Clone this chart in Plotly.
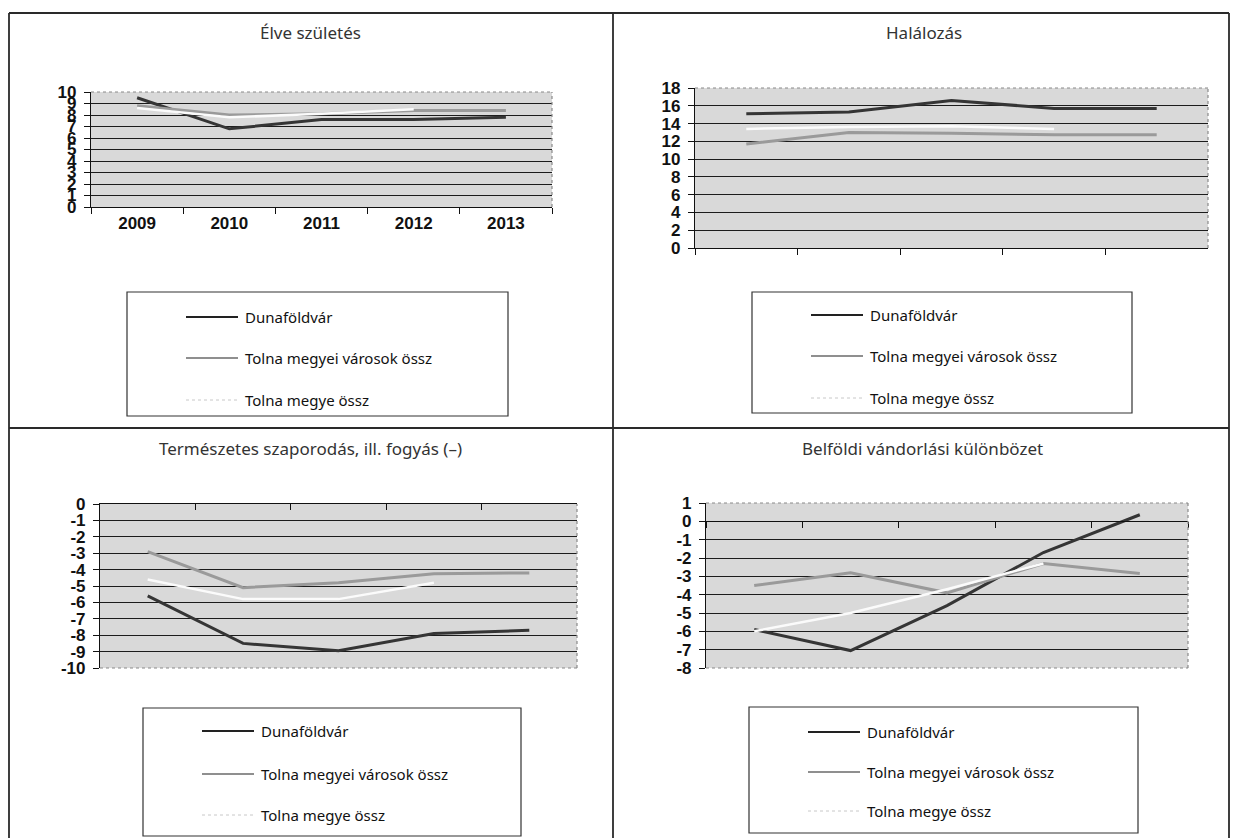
import plotly.graph_objects as go

# ---------------- data ----------------
years = ["2009", "2010", "2011", "2012", "2013"]
series_names = ["Dunaföldvár", "Tolna megyei városok össz", "Tolna megye össz"]
titles = ["Élve születés", "Halálozás", "Természetes szaporodás, ill. fogyás (–)",
          "Belföldi vándorlási különbözet"]

birth_duna = [9.5, 6.8, 7.6, 7.6, 7.8]
birth_varos = [8.8, 8.0, 8.1, 8.4, 8.4]
birth_megye = [8.6, 7.8, 8.1, 8.5, None]

death_duna = [15.1, 15.3, 16.6, 15.7, 15.7]
death_varos = [11.7, 13.0, 12.9, 12.75, 12.75]
death_megye = [13.4, 13.6, 13.7, 13.4, None]

nat_duna = [-5.6, -8.5, -8.95, -7.9, -7.7]
nat_varos = [-2.9, -5.1, -4.8, -4.25, -4.2]
nat_megye = [-4.6, -5.8, -5.8, -4.8, None]

mig_duna = [-5.9, -7.05, -4.6, -1.7, 0.36]
mig_varos = [-3.5, -2.8, -3.9, -2.3, -2.85]
mig_megye = [-6.0, -5.0, -3.7, -2.3, None]

y_ranges = [[0, 10], [0, 18], [-10, 0], [-8, 1]]
y_dticks = [1, 2, 1, 1]

# ---------------- layout geometry (pixels) ----------------
W, H = 1233, 838


def px(x):
    return x / W


def py(y):
    return 1 - y / H


# plot areas: (left, right, top, bottom)
areas = [(91, 552, 92, 207), (695, 1208, 88, 248), (100, 577, 504, 668), (706, 1188, 503, 668)]
title_pos = [(310, 33), (924, 33), (310, 448), (922, 448)]
# legend boxes: (left, right, top, bottom), entry rows y
legend_boxes = [(127, 508, 292, 416), (752, 1132, 292, 413), (143, 521, 708, 836), (749, 1138, 707, 833)]
legend_rows = [(317, 358, 400), (315, 356, 398), (731, 774, 815), (732, 772, 811)]

line_styles = [dict(color="#353535", width=3), dict(color="#9a9a9a", width=3),
               dict(color="#fbfbfb", width=2.5)]
legend_line_styles = [dict(color="#222222", width=2), dict(color="#8f8f8f", width=2),
                      dict(color="#c8c8c8", width=1, dash="dot")]

data_sets = [
    (birth_duna, birth_varos, birth_megye),
    (death_duna, death_varos, death_megye),
    (nat_duna, nat_varos, nat_megye),
    (mig_duna, mig_varos, mig_megye),
]

fig = go.Figure()
shapes = []
annotations = []

tick_font = dict(family="Liberation Sans", size=17, color="#111111", weight="bold")

for i, (vals, area, yr, dt) in enumerate(zip(data_sets, areas, y_ranges, y_dticks)):
    n = i + 1
    xa = "x" if n == 1 else f"x{n}"
    ya = "y" if n == 1 else f"y{n}"
    for s, v in enumerate(vals):
        fig.add_trace(go.Scatter(x=years, y=v, mode="lines", line=line_styles[s],
                                 name=series_names[s], showlegend=False,
                                 xaxis=xa, yaxis=ya, connectgaps=False))
    l, r, t, b = area
    xdom = [px(l), px(r)]
    ydom = [py(b), py(t)]
    xkey = "xaxis" if n == 1 else f"xaxis{n}"
    ykey = "yaxis" if n == 1 else f"yaxis{n}"

    xaxis = dict(domain=xdom, type="category", range=[-0.5, len(years) - 0.5],
                 tickson="boundaries", showgrid=False,
                 showline=True, linecolor="#111111", linewidth=1.2, ticks="outside",
                 ticklen=6, tickcolor="#111111", fixedrange=True, zeroline=False,
                 automargin=False)
    if n == 1:
        xaxis.update(anchor=ya, showticklabels=True, tickfont=tick_font)
    elif n == 2:
        xaxis.update(anchor=ya, showticklabels=False)
    elif n == 3:
        xaxis.update(anchor=ya, side="top", ticks="inside", showticklabels=False)
    else:
        pos = ydom[0] + (0 - yr[0]) / (yr[1] - yr[0]) * (ydom[1] - ydom[0])
        xaxis.update(anchor="free", position=pos, showticklabels=False)

    tvals = list(range(yr[0], yr[1] + 1, dt))
    yaxis = dict(domain=ydom, anchor=xa, range=yr, tickmode="array", tickvals=tvals,
                 ticktext=[str(v) for v in tvals], showgrid=True,
                 gridcolor="#1c1c1c", gridwidth=1, zeroline=False, showline=True,
                 linecolor="#111111", linewidth=1.2, ticks="outside", ticklen=6,
                 tickcolor="#111111", tickfont=tick_font, ticklabelstandoff=4,
                 fixedrange=True, automargin=False)
    fig.update_layout({xkey: xaxis, ykey: yaxis})

    # plot border edges not covered by axis lines
    border = dict(color="#8a8a8a", width=1.2, dash="dot")
    edges = [("top", (0, 1, 1, 1)), ("right", (1, 0, 1, 1)), ("bottom", (0, 0, 1, 0))]
    for name, (ex0, ey0, ex1, ey1) in edges:
        if name == "bottom" and n in (1, 2):
            continue
        if name == "top" and n == 3:
            continue
        shapes.append(dict(type="line", xref=f"{xa} domain", yref=f"{ya} domain",
                           x0=ex0, y0=ey0, x1=ex1, y1=ey1, line=border, layer="above"))

    # title
    tx, ty = title_pos[i]
    annotations.append(dict(text=titles[i], x=px(tx), y=py(ty), xref="paper", yref="paper",
                            showarrow=False, xanchor="center", yanchor="middle",
                            font=dict(family="Noto Sans", size=17, color="#333333")))

    # legend box
    bl, br, bt, bb = legend_boxes[i]
    shapes.append(dict(type="rect", xref="paper", yref="paper", x0=px(bl), x1=px(br),
                       y0=py(bb), y1=py(bt), line=dict(color="#333333", width=1.2)))
    for s, ry in enumerate(legend_rows[i]):
        shapes.append(dict(type="line", xref="paper", yref="paper", x0=px(bl + 59),
                           x1=px(bl + 111), y0=py(ry), y1=py(ry), line=legend_line_styles[s]))
        annotations.append(dict(text=series_names[s], x=px(bl + 116), y=py(ry),
                                xref="paper", yref="paper", showarrow=False,
                                xanchor="left", yanchor="middle",
                                font=dict(family="Noto Sans", size=15, color="#111111")))

# table borders
tb = dict(color="#2a2a2a", width=1.8)
for (x0, y0, x1, y1) in [(9, 13, 1229, 13), (9, 13, 9, 838), (613, 13, 613, 838),
                         (9, 428, 1229, 428), (1229, 13, 1229, 838)]:
    shapes.append(dict(type="line", xref="paper", yref="paper", x0=px(x0), y0=py(y0),
                       x1=px(x1), y1=py(y1), line=tb))

fig.update_layout(width=W, height=H, margin=dict(l=0, r=0, t=0, b=0, autoexpand=False),
                  paper_bgcolor="white", plot_bgcolor="#d9d9d9",
                  shapes=shapes, annotations=annotations, showlegend=False)

fig.write_html("out.html", config={"displayModeBar": False},
               post_script="document.body.style.margin='0';document.body.style.padding='0';"
                           "document.body.style.overflow='hidden';")
